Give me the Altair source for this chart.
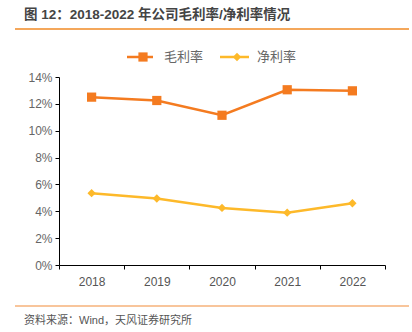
import altair as alt
import pandas as pd

years = ["2018", "2019", "2020", "2021", "2022"]
gross_margin = [12.5, 12.25, 11.15, 13.05, 12.97]
net_margin = [5.35, 4.95, 4.25, 3.9, 4.6]
series_names = ["毛利率", "净利率"]
colors = ["#F47B20", "#FDB92A"]
title_text = "图 12：2018-2022 年公司毛利率/净利率情况"
source_text = "资料来源：Wind，天风证券研究所"
y_ticks = [0, 0.02, 0.04, 0.06, 0.08, 0.10, 0.12, 0.14]

rows = []
for s, vals in zip(series_names, [gross_margin, net_margin]):
    for y, v in zip(years, vals):
        rows.append({"year": y, "series": s, "value": v / 100})
df = pd.DataFrame(rows)

W, H = 326, 188
L, T = 59, 77
FONT = "Liberation Sans, Noto Sans CJK SC"

x_enc = alt.X("year:N", sort=years, title=None,
              scale=alt.Scale(paddingInner=0, paddingOuter=0),
              axis=alt.Axis(labelAngle=0, tickBand="extent", labelPadding=7,
                            labelFontSize=12, labelColor="#555", domainColor="#000",
                            tickColor="#000", tickSize=4, labelFont=FONT))
y_enc = alt.Y("value:Q", title=None,
              scale=alt.Scale(domain=[0, 0.14], nice=False, zero=True),
              axis=alt.Axis(format=".0%", values=y_ticks, tickCount=8,
                            grid=False, labelFontSize=12, labelColor="#666",
                            domainColor="#000", tickColor="#000", tickSize=4,
                            labelPadding=3, labelFont=FONT, labelOverlap=False))
color_enc = alt.Color("series:N", scale=alt.Scale(domain=series_names, range=colors), legend=None)

base = alt.Chart(df)
lines = base.mark_line(strokeWidth=2.5).encode(x=x_enc, y=y_enc, color=color_enc)
gross_pts = base.transform_filter(alt.datum.series == "毛利率").mark_point(
    shape="square", filled=True, size=85, opacity=1).encode(x=x_enc, y=y_enc, color=color_enc)
net_pts = base.transform_filter(alt.datum.series == "净利率").mark_point(
    shape="diamond", filled=True, size=70, opacity=1).encode(x=x_enc, y=y_enc, color=color_enc)

# decorations (title, separator lines, legend, source)
title = alt.Chart(pd.DataFrame({"t": [title_text]})).mark_text(
    align="left", baseline="middle", fontSize=13.5, fontWeight="bold", color="#444", font=FONT
).encode(x=alt.value(24 - L), y=alt.value(15 - T), text="t:N")
top_rule = alt.Chart(pd.DataFrame({"a": [0]})).mark_rule(color="#F08A24", strokeWidth=1.5).encode(
    x=alt.value(15 - L), x2=alt.value(409 - L), y=alt.value(29 - T))
bot_rule = alt.Chart(pd.DataFrame({"a": [0]})).mark_rule(color="#F6B27A", strokeWidth=1.5).encode(
    x=alt.value(15 - L), x2=alt.value(409 - L), y=alt.value(306 - T))
source = alt.Chart(pd.DataFrame({"t": [source_text]})).mark_text(
    align="left", baseline="middle", fontSize=11, color="#555", font=FONT
).encode(x=alt.value(24 - L), y=alt.value(321 - T), text="t:N")

leg_y = 57 - T
leg1_line = alt.Chart(pd.DataFrame({"a": [0]})).mark_rule(color=colors[0], strokeWidth=2.5).encode(
    x=alt.value(127 - L), x2=alt.value(153 - L), y=alt.value(leg_y))
leg1_pt = alt.Chart(pd.DataFrame({"a": [0]})).mark_point(
    shape="square", filled=True, size=85, color=colors[0], opacity=1).encode(
    x=alt.value(143 - L), y=alt.value(leg_y))
leg1_txt = alt.Chart(pd.DataFrame({"t": [series_names[0]]})).mark_text(
    align="left", baseline="middle", fontSize=13, color="#666", font="Noto Sans CJK SC").encode(
    x=alt.value(164 - L), y=alt.value(leg_y), text="t:N")
leg2_line = alt.Chart(pd.DataFrame({"a": [0]})).mark_rule(color=colors[1], strokeWidth=2.5).encode(
    x=alt.value(220 - L), x2=alt.value(249 - L), y=alt.value(leg_y))
leg2_pt = alt.Chart(pd.DataFrame({"a": [0]})).mark_point(
    shape="diamond", filled=True, size=70, color=colors[1], opacity=1).encode(
    x=alt.value(237 - L), y=alt.value(leg_y))
leg2_txt = alt.Chart(pd.DataFrame({"t": [series_names[1]]})).mark_text(
    align="left", baseline="middle", fontSize=13, color="#666", font="Noto Sans CJK SC").encode(
    x=alt.value(257 - L), y=alt.value(leg_y), text="t:N")

chart = alt.layer(
    lines, gross_pts, net_pts,
    title, top_rule, bot_rule, source,
    leg1_line, leg1_pt, leg1_txt, leg2_line, leg2_pt, leg2_txt
).properties(
    width=W, height=H,
    autosize=alt.AutoSizeParams(type="none"),
    padding={"left": L, "top": T, "right": 412 - L - W, "bottom": 332 - T - H},
    background="white"
).configure_view(stroke=None)

chart.save("out.html", embed_options={"renderer": "svg", "actions": False})
